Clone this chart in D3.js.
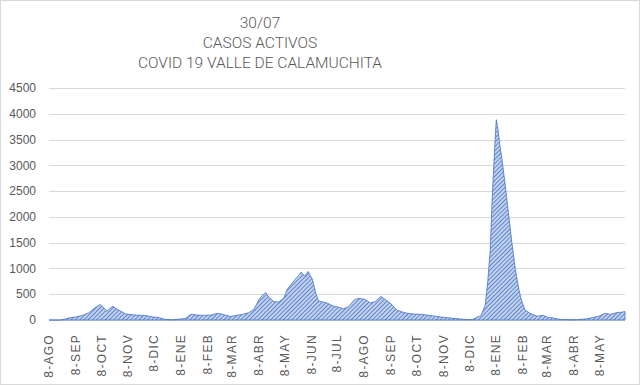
<!DOCTYPE html>
<html>
<head>
<meta charset="utf-8">
<script src="https://cdn.jsdelivr.net/npm/d3@7"></script>
<style>
  body { margin: 0; background: #fff; }
  svg { display: block; }
</style>
</head>
<body>
<div id="chart"></div>
<script>
  // Title lines
  var titleLines = ["30/07", "CASOS ACTIVOS", "COVID 19 VALLE DE CALAMUCHITA"];

  // Y axis ticks
  var yTicks = [0, 500, 1000, 1500, 2000, 2500, 3000, 3500, 4000, 4500];

  // X axis labels (8th of every month)
  var monthLabels = ["AGO", "SEP", "OCT", "NOV", "DIC", "ENE", "FEB", "MAR", "ABR", "MAY", "JUN", "JUL",
                     "AGO", "SEP", "OCT", "NOV", "DIC", "ENE", "FEB", "MAR", "ABR", "MAY"];

  // Active cases
  var fechas = [
    "2020-08-08", "2020-08-20", "2020-08-25", "2020-08-31", "2020-09-08", "2020-09-16", "2020-09-23",
    "2020-09-29", "2020-10-06", "2020-10-11", "2020-10-14", "2020-10-17", "2020-10-21", "2020-10-27",
    "2020-11-05", "2020-11-17", "2020-11-28", "2020-12-06", "2020-12-13", "2020-12-21", "2020-12-29",
    "2021-01-08", "2021-01-13", "2021-01-19", "2021-01-27", "2021-02-03", "2021-02-11", "2021-02-20",
    "2021-02-27", "2021-03-06", "2021-03-13", "2021-03-20", "2021-03-27", "2021-04-02", "2021-04-08",
    "2021-04-12", "2021-04-16", "2021-04-19", "2021-04-25", "2021-05-01", "2021-05-07", "2021-05-11",
    "2021-05-16", "2021-05-20", "2021-05-24", "2021-05-27", "2021-05-31", "2021-06-04", "2021-06-07",
    "2021-06-09", "2021-06-13", "2021-06-16", "2021-06-21", "2021-06-26", "2021-07-03", "2021-07-09",
    "2021-07-15", "2021-07-21", "2021-07-27", "2021-08-01", "2021-08-09", "2021-08-15", "2021-08-21",
    "2021-08-27", "2021-09-02", "2021-09-07", "2021-09-15", "2021-09-22", "2021-09-27", "2021-10-05",
    "2021-10-12", "2021-10-20", "2021-10-27", "2021-11-04", "2021-11-12", "2021-11-21", "2021-11-27",
    "2021-12-04", "2021-12-09", "2021-12-13", "2021-12-17", "2021-12-21", "2021-12-26", "2021-12-29",
    "2022-01-01", "2022-01-03", "2022-01-05", "2022-01-07", "2022-01-08", "2022-01-10", "2022-01-12",
    "2022-01-14", "2022-01-18", "2022-01-22", "2022-01-26", "2022-01-30", "2022-02-03", "2022-02-06",
    "2022-02-10", "2022-02-16", "2022-02-24", "2022-03-03", "2022-03-09", "2022-03-15", "2022-03-23",
    "2022-04-03", "2022-04-11", "2022-04-21", "2022-04-26", "2022-05-03", "2022-05-08", "2022-05-14",
    "2022-05-20", "2022-05-28", "2022-06-02", "2022-06-06"
  ];
  var casos = [
    0, 0, 10, 40, 60, 90, 140,
    220, 300, 230, 170, 220, 265, 200,
    115, 95, 85, 60, 50, 10, 5,
    20, 30, 110, 95, 90, 95, 130,
    100, 70, 90, 110, 140, 200, 390,
    480, 530, 455, 360, 345, 430, 600,
    700, 790, 860, 930, 850, 940, 850,
    790, 520, 370, 350, 330, 270, 250,
    215, 260, 380, 420, 400, 330, 360,
    460, 390, 330, 190, 150, 130, 115,
    110, 95, 80, 60, 45, 30, 20,
    10, 5, 20, 60, 80, 280, 730,
    1370, 2275, 2980, 3630, 3885, 3690, 3400,
    3180, 2660, 2080, 1500, 985, 600, 390,
    200, 130, 75, 90, 50, 40, 10,
    5, 5, 20, 35, 60, 80, 130,
    110, 145, 150, 165
  ];

  var parse = d3.timeParse("%Y-%m-%d");
  var data = fechas.map(function(f, i) { return {fecha: parse(f), casos: casos[i]}; });

  var width = 640, height = 385;
  var margin = {top: 88, right: 15, bottom: 65, left: 49};

  var svg = d3.select("#chart")
    .append("svg")
    .attr("width", width)
    .attr("height", height);

  // chart border
  svg.append("rect")
    .attr("x", 0.5).attr("y", 0.5)
    .attr("width", width - 1).attr("height", height - 1)
    .attr("fill", "#fff")
    .attr("stroke", "#d9d9d9");

  // hatch pattern
  var defs = svg.append("defs");
  var pattern = defs.append("pattern")
    .attr("id", "hatch")
    .attr("patternUnits", "userSpaceOnUse")
    .attr("width", 3)
    .attr("height", 3)
    .attr("patternTransform", "rotate(45)");
  pattern.append("rect")
    .attr("width", 3).attr("height", 3)
    .attr("fill", "#c4d2ee");
  pattern.append("line")
    .attr("x1", 0).attr("y1", 0)
    .attr("x2", 0).attr("y2", 3)
    .attr("stroke", "#4472c4")
    .attr("stroke-width", 1.6);

  var x = d3.scaleTime()
    .domain([parse("2020-08-08"), parse("2022-06-06")])
    .range([margin.left, width - margin.right]);

  var y = d3.scaleLinear()
    .domain([0, 4500])
    .range([height - margin.bottom, margin.top]);

  // title
  svg.append("g")
    .selectAll("text")
    .data(titleLines)
    .enter().append("text")
    .attr("x", 260)
    .attr("y", function(d, i) { return 28 + i * 20.2; })
    .attr("text-anchor", "middle")
    .attr("font-family", "Roboto, sans-serif")
    .attr("font-weight", 300)
    .attr("font-size", "15.5px")
    .attr("letter-spacing", "0px")
    .attr("fill", "#595959")
    .text(function(d) { return d; });

  // gridlines
  svg.append("g")
    .selectAll("line")
    .data(yTicks)
    .enter().append("line")
    .attr("x1", margin.left)
    .attr("x2", width - margin.right)
    .attr("y1", function(d) { return Math.round(y(d)) + 0.5; })
    .attr("y2", function(d) { return Math.round(y(d)) + 0.5; })
    .attr("stroke", "#d9d9d9")
    .attr("stroke-width", 1);

  // y labels
  svg.append("g")
    .selectAll("text")
    .data(yTicks)
    .enter().append("text")
    .attr("x", 36)
    .attr("y", function(d) { return y(d); })
    .attr("dy", "0.35em")
    .attr("text-anchor", "end")
    .attr("font-family", "Liberation Sans, Arial, sans-serif")
    .attr("font-size", "12px")
    .attr("fill", "#595959")
    .text(function(d) { return d; });

  // area
  var area = d3.area()
    .x(function(d) { return x(d.fecha); })
    .y0(y(0))
    .y1(function(d) { return y(d.casos); });

  svg.append("path")
    .datum(data)
    .attr("d", area)
    .attr("fill", "url(#hatch)")
    .attr("stroke", "#4472c4")
    .attr("stroke-width", 0.8)
    .attr("stroke-linejoin", "round");

  // x labels on the 8th of each month
  var tickDates = monthLabels.map(function(m, i) {
    return new Date(2020, 7 + i, 8);
  });
  svg.append("g")
    .selectAll("text")
    .data(tickDates)
    .enter().append("text")
    .attr("transform", function(d) {
      return "translate(" + (x(d) + 4) + "," + (height - margin.bottom + 14) + ") rotate(-90)";
    })
    .attr("text-anchor", "end")
    .attr("font-family", "Liberation Sans, Arial, sans-serif")
    .attr("font-size", "12px")
    .attr("letter-spacing", "1.3px")
    .attr("fill", "#595959")
    .text(function(d, i) { return "8-" + monthLabels[i]; });
</script>
</body>
</html>
